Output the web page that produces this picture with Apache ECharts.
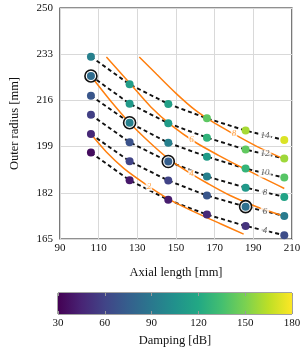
<!DOCTYPE html>
<html><head><meta charset="utf-8">
<script src="https://cdn.jsdelivr.net/npm/echarts@6/dist/echarts.min.js"></script>
<style>html,body{margin:0;padding:0;background:#fff}#c{width:305px;height:349px}</style>
</head><body><div id="c"></div>
<script>
// ---- data ----
const axialLength = [106, 126, 146, 166, 186, 206];
const rowNames = ['4', '6', '8', '10', '12', '14'];
const radius4  = [196.8, 186.6, 179.4, 174.0, 169.8, 166.4];
const radius6  = [203.6, 193.6, 186.5, 181.0, 176.9, 173.5];
const radius8  = [210.7, 200.6, 193.5, 188.0, 183.9, 180.5];
const radius10 = [217.7, 207.8, 200.4, 195.3, 190.9, 187.6];
const radius12 = [225.0, 214.8, 207.6, 202.3, 197.9, 194.6];
const radius14 = [232.1, 221.9, 214.7, 209.4, 204.9, 201.4];
const damping4  = [35, 40, 42, 47, 52, 65];
const damping6  = [47, 60, 60, 70, 85, 92];
const damping8  = [58, 68, 75, 95, 110, 117];
const damping10 = [70, 95, 95, 112, 128, 140];
const damping12 = [83, 110, 112, 127, 143, 158];
const damping14 = [95, 113, 115, 142, 160, 172];
const optimumIndex = [null, 4, 2, 1, 0, null]; // per row (4..14)
const contourNames = ['2', '4', '6', '8'];
const contour2 = [[106,203.6],[114,197.0],[123,191.0],[134,185.3],[146,179.8],[160,174.8],[173,170.6],[185,166.8]];
const contour4 = [[106,225.0],[116,216.0],[126,207.8],[136,200.8],[146,194.6],[156,189.8],[166,185.6],[178,181.0],[192,176.8],[206,173.4]];
const contour6 = [[114,232.0],[126,222.4],[137,213.6],[148,206.6],[160,200.6],[172,195.8],[186,190.6],[206,183.6]];
const contour8 = [[131,232.0],[140,225.6],[150,218.6],[160,212.4],[170,207.6],[180,203.6],[192,199.0],[206,194.4]];
const contourLabelX = [136, 158, 158, 180];
const xTicks = [90, 110, 130, 150, 170, 190, 210];
const yTicks = [165, 182, 199, 216, 233, 250];
const cbTicks = [30, 60, 90, 120, 150, 180];

// ---- build ----
const radii = [radius4, radius6, radius8, radius10, radius12, radius14];
const damps = [damping4, damping6, damping8, damping10, damping12, damping14];
const contours = [contour2, contour4, contour6, contour8];
const viridis = ['#440154','#482475','#414487','#355f8d','#2a788e','#21918c','#22a884','#44bf70','#7ad151','#bddf26','#fde725'];
const FONT = 'Liberation Serif';

function interp(curve, x) {
  for (let i = 0; i < curve.length - 1; i++) {
    const a = curve[i], b = curve[i + 1];
    if (x >= a[0] && x <= b[0]) return a[1] + (b[1] - a[1]) * (x - a[0]) / (b[0] - a[0]);
  }
  return curve[curve.length - 1][1];
}

const series = [];
// dashed lines
radii.forEach((r, i) => {
  series.push({
    type: 'line', xAxisIndex: 0, yAxisIndex: 0, z: 2, silent: true,
    symbol: 'none', data: axialLength.map((x, j) => [x, r[j]]),
    lineStyle: { color: '#111', width: 1.9, type: [4, 3] }
  });
});
// orange contours
contours.forEach(c => {
  series.push({
    type: 'line', xAxisIndex: 0, yAxisIndex: 0, z: 3, silent: true,
    symbol: 'none', smooth: 0.3, data: c,
    lineStyle: { color: '#ff7f0e', width: 1.5 }
  });
});
// contour labels
series.push({
  type: 'scatter', z: 7, symbolSize: 0, silent: true,
  data: contours.map((c, i) => ({ value: [contourLabelX[i], interp(c, contourLabelX[i])], name: contourNames[i] })),
  label: { show: true, position: 'inside', formatter: p => p.name, color: '#ff8c1a', fontSize: 9,
    fontStyle: 'italic', fontFamily: FONT, backgroundColor: '#fff', padding: [0, 1] }
});
// dashed line labels (midpoint of last segment)
series.push({
  type: 'scatter', z: 7, symbolSize: 0, silent: true,
  data: radii.map((r, i) => ({ value: [(axialLength[4] + axialLength[5]) / 2, (r[4] + r[5]) / 2], name: rowNames[i] })),
  label: { show: true, position: 'inside', formatter: p => p.name, color: '#333', fontSize: 9,
    fontStyle: 'italic', fontFamily: FONT, backgroundColor: '#fff', padding: [0, 2] }
});
// optimum rings
const ringData = [];
optimumIndex.forEach((j, i) => { if (j !== null) ringData.push([axialLength[j], radii[i][j]]); });
series.push({
  type: 'scatter', z: 5, symbolSize: 12, silent: true, data: ringData,
  itemStyle: { color: '#fff', borderColor: '#111', borderWidth: 1.6, opacity: 1 }
});
// points
const pts = [];
radii.forEach((r, i) => axialLength.forEach((x, j) => pts.push([x, r[j], damps[i][j]])));
const pointSeriesIndex = series.length;
series.push({
  type: 'scatter', z: 6, symbolSize: 8, data: pts, itemStyle: { opacity: 1 }
});
// colorbar
series.push({
  type: 'custom', xAxisIndex: 1, yAxisIndex: 1, z: 2, silent: true,
  data: [[cbTicks[0], cbTicks[cbTicks.length - 1]]],
  renderItem: (params, api) => {
    const p0 = api.coord([api.value(0), 0]);
    const p1 = api.coord([api.value(1), 1]);
    return {
      type: 'rect',
      shape: { x: p0[0], y: p1[1], width: p1[0] - p0[0], height: p0[1] - p1[1] },
      style: { fill: new echarts.graphic.LinearGradient(0, 0, 1, 0,
        viridis.map((c, k) => ({ offset: k / (viridis.length - 1), color: c }))) }
    };
  }
});

const chart = echarts.init(document.getElementById('c'), null, { renderer: 'canvas' });
chart.setOption({
  animation: false,
  backgroundColor: '#fff',
  textStyle: { fontFamily: FONT },
  grid: [
    { left: 58, right: 13, top: 8, bottom: 110, show: true, borderColor: '#222', borderWidth: 1.2 },
    { left: 58, right: 13, top: 293, height: 21, show: true, borderColor: '#444', borderWidth: 1 }
  ],
  xAxis: [
    { type: 'value', gridIndex: 0, min: 90, max: 210,
      axisLine: { show: false }, axisTick: { show: false, customValues: xTicks },
      axisLabel: { customValues: xTicks, fontSize: 11, color: '#111', margin: 4, fontFamily: FONT },
      splitLine: { show: true, lineStyle: { color: '#d9d9d9', width: 1 } },
      name: 'Axial length [mm]', nameLocation: 'middle', nameGap: 27,
      nameTextStyle: { fontSize: 12.5, color: '#111', fontFamily: FONT } },
    { type: 'value', gridIndex: 1, min: 30, max: 180, z: 5,
      axisLine: { show: false },
      axisTick: { show: true, inside: true, length: 3, customValues: cbTicks, lineStyle: { color: '#999' } },
      axisLabel: { customValues: cbTicks, fontSize: 11, color: '#111', margin: 4, fontFamily: FONT },
      splitLine: { show: false },
      name: 'Damping [dB]', nameLocation: 'middle', nameGap: 20,
      nameTextStyle: { fontSize: 12.5, color: '#111', fontFamily: FONT } },
    { type: 'value', gridIndex: 1, min: 30, max: 180, z: 5, position: 'top',
      axisLine: { show: false },
      axisTick: { show: true, inside: true, length: 3, customValues: cbTicks, lineStyle: { color: '#999' } },
      axisLabel: { show: false }, splitLine: { show: false } }
  ],
  yAxis: [
    { type: 'value', gridIndex: 0, min: 165, max: 250,
      axisLine: { show: false }, axisTick: { show: false, customValues: yTicks },
      axisLabel: { customValues: yTicks, fontSize: 11, color: '#111', margin: 7, fontFamily: FONT },
      splitLine: { show: true, lineStyle: { color: '#d9d9d9', width: 1 } },
      name: 'Outer radius [mm]', nameLocation: 'middle', nameGap: 39,
      nameTextStyle: { fontSize: 12.5, color: '#111', fontFamily: FONT } },
    { type: 'value', gridIndex: 1, min: 0, max: 1, show: false }
  ],
  visualMap: {
    type: 'continuous', show: false, min: 30, max: 180, dimension: 2,
    seriesIndex: pointSeriesIndex, inRange: { color: viridis }
  },
  series: series
});
</script></body></html>
